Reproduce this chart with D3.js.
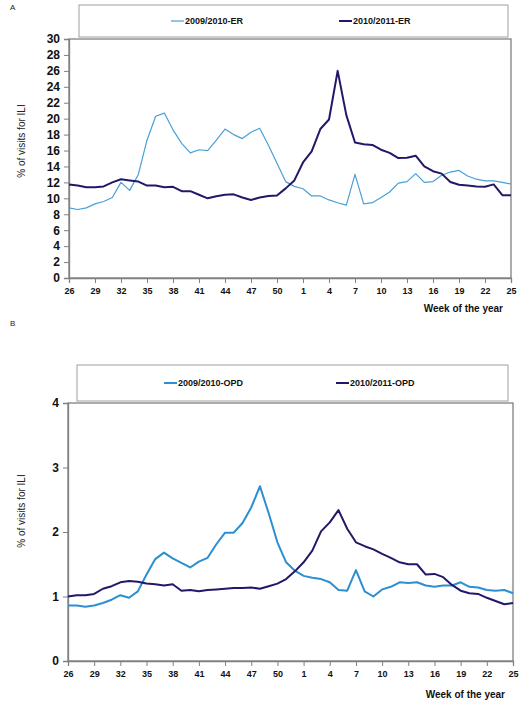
<!DOCTYPE html>
<html>
<head>
<meta charset="utf-8">
<script src="https://cdn.jsdelivr.net/npm/d3@7"></script>
<style>
  html, body { margin: 0; padding: 0; background: #fff; }
  svg { display: block; font-family: "Liberation Sans", Arial, sans-serif; }
</style>
</head>
<body>
<svg id="chart" width="522" height="702"></svg>
<script>
// ---- Data ----
const weeks = [26,27,28,29,30,31,32,33,34,35,36,37,38,39,40,41,42,43,44,45,46,47,48,49,50,51,52,
               1,2,3,4,5,6,7,8,9,10,11,12,13,14,15,16,17,18,19,20,21,22,23,24,25];
const weekTickLabels = [26,29,32,35,38,41,44,47,50,1,4,7,10,13,16,19,22,25];

const er0910 = [8.8,8.6,8.8,9.3,9.6,10.1,12.0,11.0,13.0,17.3,20.3,20.7,18.6,16.9,15.7,16.1,16.0,17.3,18.7,18.0,17.5,18.3,18.8,16.7,14.4,12.1,11.5,
                11.2,10.3,10.3,9.8,9.45,9.15,13.0,9.3,9.45,10.1,10.8,11.9,12.1,13.1,12.0,12.1,12.9,13.3,13.5,12.8,12.4,12.2,12.2,12.0,11.8];
const er1011 = [11.75,11.6,11.4,11.4,11.5,12.0,12.4,12.25,12.1,11.6,11.6,11.4,11.45,10.9,10.9,10.45,10.0,10.25,10.45,10.5,10.1,9.8,10.1,10.3,10.35,11.25,12.25,
                14.5,15.9,18.7,19.9,26.0,20.45,17.0,16.8,16.7,16.1,15.7,15.05,15.1,15.35,14.0,13.4,13.1,12.05,11.7,11.6,11.5,11.45,11.75,10.4,10.4];
const opd0910 = [0.86,0.86,0.84,0.86,0.90,0.95,1.02,0.98,1.08,1.34,1.58,1.68,1.59,1.52,1.45,1.54,1.60,1.81,1.99,1.99,2.14,2.38,2.71,2.29,1.84,1.53,1.40,
                 1.32,1.29,1.27,1.22,1.10,1.09,1.41,1.08,1.00,1.11,1.15,1.22,1.21,1.22,1.17,1.15,1.17,1.17,1.22,1.15,1.14,1.10,1.09,1.10,1.05];
const opd1011 = [1.00,1.02,1.02,1.04,1.12,1.16,1.22,1.24,1.23,1.20,1.19,1.17,1.19,1.09,1.10,1.08,1.10,1.11,1.12,1.13,1.13,1.14,1.12,1.16,1.20,1.27,1.39,
                 1.53,1.71,2.01,2.15,2.34,2.05,1.84,1.78,1.73,1.66,1.60,1.53,1.50,1.50,1.34,1.35,1.30,1.18,1.09,1.05,1.04,0.98,0.93,0.88,0.90];

const yTicksA = d3.range(0, 31, 2);
const yTicksB = [0,1,2,3,4];

const svg = d3.select("#chart");

function drawPanel(o) {
  const g = svg.append("g");
  const x = d3.scaleLinear().domain([0, weeks.length - 1]).range([o.left, o.right]);
  const y = d3.scaleLinear().domain([0, o.yMax]).range([o.bottom, o.top]);

  // panel letter
  g.append("text").attr("x", 10).attr("y", o.letterY).attr("font-size", 8)
    .attr("fill", "#222").text(o.letter);

  // legend box
  g.append("rect").attr("x", o.legX0).attr("y", o.legY0)
    .attr("width", o.legX1 - o.legX0).attr("height", o.legY1 - o.legY0)
    .attr("fill", "#fff").attr("stroke", "#a0a0a0").attr("stroke-width", 1);
  const legY = (o.legY0 + o.legY1) / 2;
  o.series.forEach((s, i) => {
    const lx = o.legItemX[i];
    g.append("line").attr("x1", lx).attr("x2", lx + 13).attr("y1", legY).attr("y2", legY)
      .attr("stroke", s.color).attr("stroke-width", s.width);
    g.append("text").attr("x", lx + 14).attr("y", legY).attr("dy", "0.35em")
      .attr("font-size", 9).attr("font-weight", "bold").attr("fill", "#111").text(s.name);
  });

  // plot frame
  g.append("rect").attr("x", o.left).attr("y", o.top)
    .attr("width", o.right - o.left).attr("height", o.bottom - o.top)
    .attr("fill", "none").attr("stroke", "#808080").attr("stroke-width", 1.3);

  // y axis
  const yAxis = d3.axisLeft(y).tickValues(o.yTicks).tickSize(5).tickPadding(4).tickFormat(d3.format("d"));
  const ya = g.append("g").attr("transform", `translate(${o.left},0)`).call(yAxis);
  ya.select(".domain").attr("stroke", "#808080").attr("stroke-width", 1.3);
  ya.selectAll(".tick line").attr("stroke", "#808080");
  ya.selectAll(".tick text").attr("font-size", o.yFont).attr("font-weight", "bold")
    .attr("fill", "#111").attr("font-family", "Liberation Sans, Arial, sans-serif");

  // x axis
  const tickIdx = weekTickLabels.map(w => weeks.indexOf(w, w >= 26 ? 0 : 27));
  const xAxis = d3.axisBottom(x).tickValues(tickIdx).tickSize(5).tickPadding(5)
    .tickFormat(d => weeks[d]);
  const xa = g.append("g").attr("transform", `translate(0,${o.bottom})`).call(xAxis);
  xa.select(".domain").attr("stroke", "#808080").attr("stroke-width", 1.3);
  xa.selectAll(".tick line").attr("stroke", "#808080");
  xa.selectAll(".tick text").attr("font-size", 9).attr("font-weight", "bold")
    .attr("fill", "#111").attr("font-family", "Liberation Sans, Arial, sans-serif");

  // axis titles
  g.append("text").attr("transform", `translate(25,${o.yTitleY}) rotate(-90)`)
    .attr("text-anchor", "middle").attr("font-size", 10).attr("fill", "#222")
    .text("% of visits for ILI");
  g.append("text").attr("x", o.xTitleX).attr("y", o.xTitleY).attr("dy", "0.35em")
    .attr("text-anchor", "end").attr("font-size", 10).attr("font-weight", "bold").attr("fill", "#111")
    .text("Week of the year");

  // lines
  const line = d3.line().x((d, i) => x(i)).y(d => y(d));
  o.series.forEach(s => {
    g.append("path").datum(s.values).attr("d", line).attr("fill", "none")
      .attr("stroke", s.color).attr("stroke-width", s.width).attr("stroke-linejoin", "round");
  });
}

drawPanel({
  letter: "A", letterY: 10,
  left: 69, right: 511, top: 39, bottom: 278, yMax: 30, yTicks: yTicksA, yFont: 12,
  legX0: 79, legX1: 508, legY0: 5, legY1: 37, legItemX: [171, 339],
  yTitleY: 141, xTitleX: 503, xTitleY: 308,
  series: [
    { name: "2009/2010-ER", values: er0910, color: "#4a9fd4", width: 1.2 },
    { name: "2010/2011-ER", values: er1011, color: "#22186a", width: 2 }
  ]
});

drawPanel({
  letter: "B", letterY: 326,
  left: 68, right: 513, top: 403, bottom: 661, yMax: 4, yTicks: yTicksB, yFont: 12,
  legX0: 77, legX1: 508, legY0: 365, legY1: 401, legItemX: [164, 336],
  yTitleY: 511, xTitleX: 505, xTitleY: 694,
  series: [
    { name: "2009/2010-OPD", values: opd0910, color: "#2b8fd2", width: 2 },
    { name: "2010/2011-OPD", values: opd1011, color: "#22186a", width: 2 }
  ]
});
</script>
</body>
</html>
